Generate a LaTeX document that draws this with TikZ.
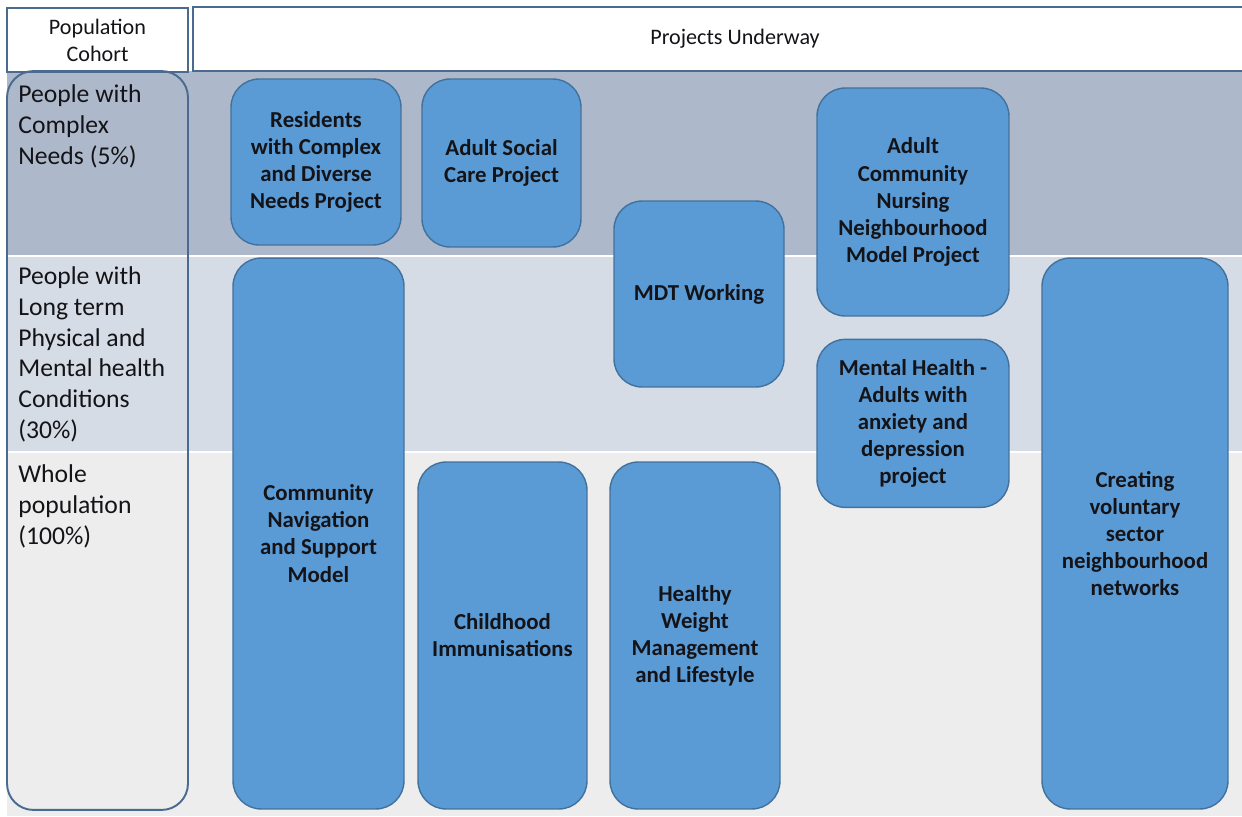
\documentclass[tikz,border=0pt]{standalone}
\usepackage{fontspec}
\setmainfont{Carlito}
\usepackage{xcolor}
\usepackage{tikz}
\usetikzlibrary{positioning}
\definecolor{clrBox}{RGB}{91,155,213}
\definecolor{clrEdge}{RGB}{65,113,156}
\definecolor{clrFrame}{RGB}{74,106,144}
\definecolor{clrTxt}{RGB}{20,20,24}
\definecolor{bgComplex}{RGB}{173,185,202}
\definecolor{bgLong}{RGB}{214,220,229}
\definecolor{bgWhole}{RGB}{237,237,237}
\tikzset{
  project/.style={rectangle,rounded corners=16pt,draw=clrEdge,line width=0.8pt,
    fill=clrBox,align=center,text=clrTxt,inner sep=0pt,
    font=\fontsize{13}{15.4}\selectfont\bfseries},
  header/.style={rectangle,draw=clrFrame,line width=1.1pt,fill=white,
    align=center,inner sep=0pt,text=clrTxt,
    font=\fontsize{12.6}{15.4}\selectfont},
  cohort/.style={anchor=north west,align=left,inner sep=0pt,text=clrTxt,
    font=\fontsize{14.6}{17.6}\selectfont},
  column/.style={rectangle,rounded corners=15pt,draw=clrFrame,line width=1.1pt,
    inner sep=0pt}
}

\begin{document}
\begin{tikzpicture}[x=0.02cm,y=-0.02cm]
  \useasboundingbox (0,0) rectangle (1242,816);
  \fill[white] (0,0) rectangle (1242,816);

  % cohort bands
  \fill[bgComplex] (7,71) rectangle (1242,256);
  \fill[bgLong] (7,256) rectangle (1242,452);
  \fill[bgWhole] (7,452) rectangle (1242,816);
  \draw[white,line width=0.8pt] (7,256) -- (1242,256) (7,452) -- (1242,452);

  % header row
  \node[header,minimum width=3.62cm,minimum height=1.28cm] (hdrcohort)
    at (97.5,40) {Population\\Cohort};
  \node[header,minimum width=21.68cm,minimum height=1.28cm] (hdrprojects)
    at (735,39) {Projects Underway};

  % cohort column
  \node[column,minimum width=3.62cm,minimum height=14.78cm] (cohortcol)
    at (97.5,440.5) {};
  \node[cohort] (complex) at (18,84) {People with\\Complex\\Needs (5\%)};
  \node[cohort] (longterm) at (18,266)
    {People with\\Long term\\Physical and\\Mental health\\Conditions\\(30\%)};
  \node[cohort] (whole) at (18,464) {Whole\\population\\(100\%)};

  % projects
  \node[project,minimum width=3.4cm,minimum height=3.32cm] (residents)
    at (316,162) {Residents\\with Complex\\and Diverse\\Needs Project};
  \node[project,minimum width=3.18cm,minimum height=3.36cm] (socialcare)
    at (501.5,163) {Adult Social\\Care Project};
  \node[project,minimum width=3.4cm,minimum height=3.72cm] (mdt)
    at (699,294) {MDT Working};
  \node[project,minimum width=3.84cm,minimum height=4.56cm] (nursing)
    at (913,202) {Adult\\Community\\Nursing\\Neighbourhood\\Model Project};
  \node[project,minimum width=3.84cm,minimum height=3.36cm,below=0.44cm of nursing]
    (mentalhealth) {Mental Health -\\Adults with\\anxiety and\\depression\\project};
  \node[project,minimum width=3.42cm,minimum height=11.02cm] (navigation)
    at (318.5,533.5) {Community\\Navigation\\and Support\\Model};
  \node[project,minimum width=3.38cm,minimum height=6.94cm] (immunise)
    at (502.5,635.5) {Childhood\\Immunisations};
  \node[project,minimum width=3.4cm,minimum height=6.94cm] (weight)
    at (695,635.5) {Healthy\\Weight\\Management\\and Lifestyle};
  \node[project,minimum width=3.72cm,minimum height=11.02cm] (voluntary)
    at (1135,533.5) {Creating\\voluntary\\sector\\neighbourhood\\networks};
\end{tikzpicture}
\end{document}
